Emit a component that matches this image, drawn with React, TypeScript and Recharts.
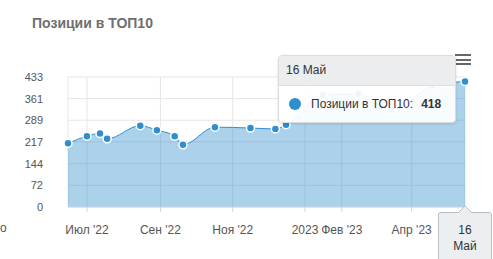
import React from "react";
import {
  AreaChart,
  Area,
  XAxis,
  YAxis,
  CartesianGrid,
} from "recharts";

const day = (y: number, m: number, d: number) => Date.UTC(y, m - 1, d);

// точки серии (дата, значение)
const dates = [
  day(2022, 6, 15),
  day(2022, 7, 1),
  day(2022, 7, 12),
  day(2022, 7, 18),
  day(2022, 8, 15),
  day(2022, 8, 29),
  day(2022, 9, 13),
  day(2022, 9, 20),
  day(2022, 10, 17),
  day(2022, 11, 16),
  day(2022, 12, 7),
  day(2022, 12, 16),
  day(2023, 1, 16),
  day(2023, 2, 15),
  day(2023, 3, 15),
  day(2023, 4, 18),
  day(2023, 5, 16),
];
const values = [212, 236, 245, 227, 271, 256, 236, 207, 266, 263, 260, 274, 373, 376, 323, 403, 418];

const xTicks = [
  day(2022, 7, 1),
  day(2022, 9, 1),
  day(2022, 11, 1),
  day(2023, 1, 1),
  day(2023, 2, 1),
  day(2023, 4, 1),
];
const xTickLabels = ["Июл '22", "Сен '22", "Ноя '22", "2023", "Фев '23", "Апр '23"];
const yTicks = [0, 72, 144, 217, 289, 361, 433];

const seriesName = "Позиции в ТОП10";
const hoverDay = "16";
const hoverMonth = "Май";

const data = dates.map((t, i) => ({ t, v: values[i] }));
const last = data[data.length - 1];

const FONT = '"Liberation Sans", Arial, Helvetica, sans-serif';
const BLUE = "#2f8fce";

export default function App() {
  return (
    <div
      style={{
        position: "absolute",
        left: 0,
        top: 0,
        width: 493,
        height: 259,
        overflow: "hidden",
        background: "#fff",
        fontFamily: FONT,
      }}
    >
      <div
        style={{
          position: "absolute",
          left: 32,
          top: 15,
          fontSize: 14,
          fontWeight: 700,
          color: "#6e6e6e",
          whiteSpace: "nowrap",
        }}
      >
        {seriesName}
      </div>

      <AreaChart
        width={493}
        height={259}
        data={data}
        margin={{ top: 77, right: 28, bottom: 0, left: 0 }}
      >
        <CartesianGrid stroke="#e6e6e6" />
        <XAxis
          dataKey="t"
          type="number"
          domain={[dates[0], dates[dates.length - 1]]}
          ticks={xTicks}
          tickFormatter={(t: number) => xTickLabels[xTicks.indexOf(t)] ?? ""}
          height={52}
          tickSize={5}
          tickMargin={13}
          stroke="#ccd6eb"
          tick={{ fill: "#555", fontSize: 12, fontFamily: FONT }}
          interval={0}
        />
        <YAxis
          type="number"
          domain={[0, 433]}
          ticks={yTicks}
          width={68}
          axisLine={false}
          tickLine={false}
          tickSize={0}
          tickMargin={25}
          tick={{ fill: "#555", fontSize: 11, fontFamily: FONT }}
          interval={0}
        />
        <Area
          type="monotone"
          dataKey="v"
          stroke={BLUE}
          strokeWidth={1}
          fill={BLUE}
          fillOpacity={0.4}
          dot={{ r: 4, fill: BLUE, stroke: "#fff", strokeWidth: 1.5, fillOpacity: 1 }}
          activeDot={false}
          isAnimationActive={false}
        />
      </AreaChart>

      {/* меню */}
      <div style={{ position: "absolute", left: 455, top: 54 }}>
        {[0, 1, 2].map((i) => (
          <div
            key={i}
            style={{ width: 16, height: 2, background: "#666", marginBottom: i < 2 ? 2.5 : 0 }}
          />
        ))}
      </div>

      {/* подсказка */}
      <div
        style={{
          position: "absolute",
          left: 278,
          top: 55,
          width: 176,
          height: 66,
          borderRadius: 4,
          border: "1px solid #dcdcdc",
          boxShadow: "0 1px 3px rgba(0,0,0,0.12)",
          overflow: "hidden",
          background: "rgba(255,255,255,0.92)",
          fontSize: 12,
          color: "#333",
        }}
      >
        <div
          style={{
            height: 29,
            background: "rgba(235,236,238,0.94)",
            borderBottom: "1px solid #dfdfdf",
            lineHeight: "29px",
            paddingLeft: 7,
          }}
        >
          {hoverDay} {hoverMonth}
        </div>
        <div style={{ display: "flex", alignItems: "center", height: 36, paddingLeft: 10 }}>
          <span
            style={{
              width: 12,
              height: 12,
              borderRadius: 6,
              background: BLUE,
              display: "inline-block",
              marginRight: 10,
            }}
          />
          <span>{seriesName}:</span>
          <b style={{ marginLeft: 8 }}>{last.v}</b>
        </div>
      </div>

      {/* метка перекрестия */}
      <div
        style={{
          position: "absolute",
          left: 438,
          top: 212,
          width: 54,
          height: 50,
          background: "#eceff2",
          border: "1px solid #b8c0c8",
          borderRadius: 3,
          fontSize: 12,
          color: "#333",
          textAlign: "center",
          lineHeight: "16px",
          paddingTop: 9,
          boxSizing: "border-box",
        }}
      >
        <div>{hoverDay}</div>
        <div>{hoverMonth}</div>
      </div>
      <svg style={{ position: "absolute", left: 458, top: 205 }} width={14} height={9}>
        <path d="M0,8 L7,1 L14,8" fill="#eceff2" stroke="#b8c0c8" strokeWidth={1} />
      </svg>

      <div style={{ position: "absolute", left: 0, top: 221, fontSize: 12, color: "#555" }}>о</div>
    </div>
  );
}
